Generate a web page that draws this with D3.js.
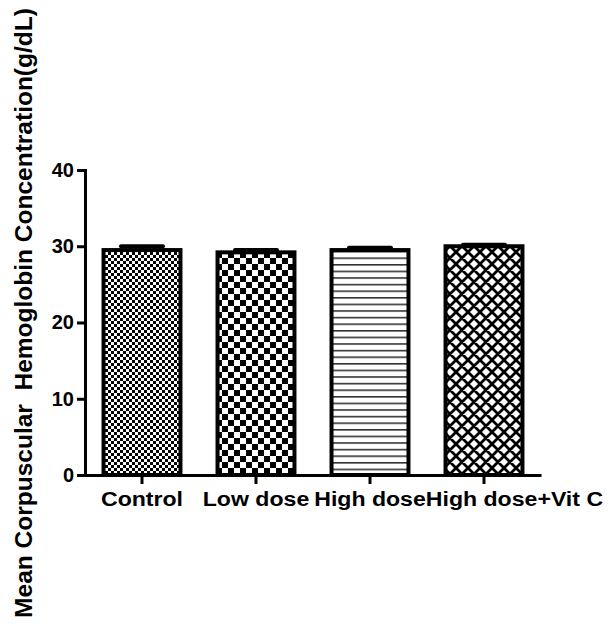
<!DOCTYPE html>
<html>
<head>
<meta charset="utf-8">
<script src="https://cdn.jsdelivr.net/npm/d3@7"></script>
<style>
  body { margin: 0; background: #fff; }
  text { font-family: "Liberation Sans", Arial, sans-serif; font-weight: bold; }
</style>
</head>
<body>
<svg id="chart" width="612" height="632"></svg>
<script>
const groups = ["Control", "Low dose", "High dose", "High dose+Vit C"];
const means = [29.5, 29.2, 29.5, 30.0];
const sems = [0.5, 0.3, 0.3, 0.2];
const yTicks = [0, 10, 20, 30, 40];
const patterns = ["fineChecker", "checker", "hlines", "crosshatch"];

const svg = d3.select("#chart");
const margin = { top: 170, left: 85, right: 71, bottom: 157 };
const width = 612, height = 632;

// patterns
const defs = svg.append("defs");

const p1 = defs.append("pattern").attr("id", "fineChecker")
  .attr("patternUnits", "userSpaceOnUse").attr("width", 6).attr("height", 6);
p1.append("rect").attr("width", 6).attr("height", 6).attr("fill", "#fff");
p1.append("rect").attr("width", 3).attr("height", 3).attr("fill", "#000");
p1.append("rect").attr("x", 3).attr("y", 3).attr("width", 3).attr("height", 3).attr("fill", "#000");

const p2 = defs.append("pattern").attr("id", "checker")
  .attr("patternUnits", "userSpaceOnUse").attr("width", 12).attr("height", 12);
p2.append("rect").attr("width", 12).attr("height", 12).attr("fill", "#fff");
p2.append("rect").attr("width", 6).attr("height", 6).attr("fill", "#000");
p2.append("rect").attr("x", 6).attr("y", 6).attr("width", 6).attr("height", 6).attr("fill", "#000");

const p3 = defs.append("pattern").attr("id", "hlines")
  .attr("patternUnits", "userSpaceOnUse").attr("width", 10).attr("height", 6.6);
p3.append("rect").attr("width", 10).attr("height", 6.6).attr("fill", "#fff");
p3.append("rect").attr("y", 0).attr("width", 10).attr("height", 1.6).attr("fill", "#333");

const p4 = defs.append("pattern").attr("id", "crosshatch")
  .attr("patternUnits", "userSpaceOnUse").attr("width", 12).attr("height", 12);
p4.append("rect").attr("width", 12).attr("height", 12).attr("fill", "#fff");
p4.append("path").attr("d", "M-3,3 L3,-3 M0,12 L12,0 M9,15 L15,9 M-3,9 L3,15 M0,0 L12,12 M9,-3 L15,3")
  .attr("stroke", "#000").attr("stroke-width", 2.8);

// scales
const x = d3.scaleBand()
  .domain(groups)
  .range([margin.left, width - margin.right])
  .paddingInner(0.29)
  .paddingOuter(0.145);

const y = d3.scaleLinear()
  .domain([0, 40])
  .range([height - margin.bottom, margin.top]);

// bars
const bars = svg.append("g");
groups.forEach((g, i) => {
  bars.append("rect")
    .attr("x", x(g) + 2)
    .attr("y", y(means[i]))
    .attr("width", x.bandwidth() - 4)
    .attr("height", y(0) - y(means[i]))
    .attr("fill", `url(#${patterns[i]})`)
    .attr("stroke", "#000")
    .attr("stroke-width", 4);
});

// error bars (upper only)
const err = svg.append("g");
groups.forEach((g, i) => {
  const cx = x(g) + x.bandwidth() / 2;
  err.append("line")
    .attr("x1", cx).attr("x2", cx)
    .attr("y1", y(means[i])).attr("y2", y(means[i] + sems[i]))
    .attr("stroke", "#000").attr("stroke-width", 4);
  err.append("line")
    .attr("x1", cx - 21).attr("x2", cx + 21)
    .attr("y1", y(means[i] + sems[i])).attr("y2", y(means[i] + sems[i]))
    .attr("stroke", "#000").attr("stroke-width", 4).attr("stroke-linecap", "round");
});

// y axis
const yAxis = svg.append("g")
  .attr("transform", `translate(${margin.left},0)`)
  .call(d3.axisLeft(y).tickValues(yTicks).tickSize(8).tickPadding(3));
yAxis.select(".domain").attr("stroke-width", 3);
yAxis.selectAll(".tick line").attr("stroke-width", 3);
yAxis.selectAll("text")
  .attr("font-size", 20).attr("fill", "#000");

// x axis
const xAxis = svg.append("g")
  .attr("transform", `translate(0,${y(0)})`)
  .call(d3.axisBottom(x).tickSize(9).tickPadding(7).tickSizeOuter(0));
xAxis.select(".domain").attr("stroke-width", 3);
xAxis.selectAll(".tick line").attr("stroke-width", 3);
xAxis.selectAll("text")
  .attr("font-size", 21).attr("fill", "#000")
  .attr("transform", "scale(1.1,1)");

// push labels right when they would run into the previous one
let prevRight = -Infinity;
xAxis.selectAll(".tick").each(function(d) {
  const t = d3.select(this).select("text");
  const w = t.node().getComputedTextLength() * 1.1;
  const cx = x(d) + x.bandwidth() / 2;
  let left = cx - w / 2;
  if (left < prevRight) {
    left = prevRight;
    t.attr("x", (left + w / 2 - cx) / 1.1);
  }
  prevRight = left + w;
});

// y title
svg.append("text")
  .attr("transform", "translate(32,313) rotate(-90)")
  .attr("text-anchor", "middle")
  .attr("font-size", 24.5)
  .attr("fill", "#000")
  .attr("xml:space", "preserve")
  .text("Mean Corpuscular  Hemoglobin Concentration(g/dL)");
</script>
</body>
</html>
